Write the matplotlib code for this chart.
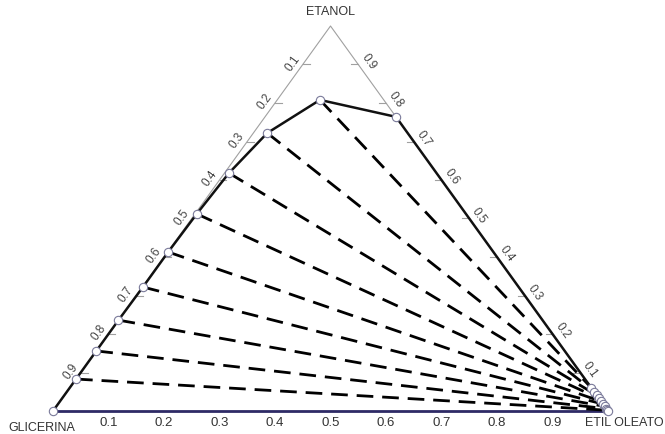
import numpy as np
import matplotlib
matplotlib.use("Agg")
import matplotlib.pyplot as plt

plt.rcParams["font.family"] = ["Liberation Sans", "DejaVu Sans"]

# fase rica em glicerina (ramo esquerdo), fracoes de etanol e etil oleato
fase_glic_etanol = [0.000, 0.083, 0.156, 0.236, 0.322, 0.413, 0.512, 0.618, 0.722, 0.808]
fase_glic_oleato = [0.000, 0.000, 0.000, 0.000, 0.001, 0.001, 0.003, 0.008, 0.025, 0.077]

# fase rica em etil oleato (ramo direito)
fase_ole_etanol = [0.000, 0.002, 0.006, 0.012, 0.018, 0.025, 0.033, 0.041, 0.050, 0.060, 0.764]
fase_ole_oleato = [1.000, 0.998, 0.994, 0.988, 0.982, 0.975, 0.967, 0.959, 0.950, 0.940, 0.236]

# linhas de amarracao: indice no ramo esquerdo -> indice no ramo direito
amarracao = [(1, 1), (2, 2), (3, 3), (4, 4), (5, 5), (6, 6), (7, 7), (8, 8), (9, 9)]

ticks = [0.1, 0.2, 0.3, 0.4, 0.5, 0.6, 0.7, 0.8, 0.9]
vertices = ["GLICERINA", "ETANOL", "ETIL OLEATO"]


def tern(etanol, oleato):
    etanol = np.asarray(etanol, dtype=float)
    oleato = np.asarray(oleato, dtype=float)
    return oleato + etanol / 2.0, etanol


fig = plt.figure(figsize=(6.65, 4.34), dpi=100)
ax = fig.add_axes([0, 0, 1, 1])
ax.set_xlim(-53 / 555, 612 / 555)
ax.set_ylim(-23 / 385, 411 / 385)
ax.axis("off")

# triangulo
ax.plot([0, 0.5, 1], [0, 1, 0], color="#a0a0a0", lw=0.8, zorder=1)
ax.plot([0, 1], [0, 0], color="#2e2a66", lw=2.0, zorder=2)

# marcas e rotulos
tk = 7 / 555
for t in ticks:
    # lado esquerdo: fracao de glicerina
    x, y = tern(1 - t, 0)
    ax.plot([x, x + tk], [y, y], color="#a0a0a0", lw=0.8, zorder=1)
    ax.text(x - 10 / 555, y + 1 / 385, f"{t:.1f}", rotation=54, ha="center", va="center",
            fontsize=8.5, color="#444444")
    # lado direito: fracao de etanol
    x, y = tern(t, 1 - t)
    ax.plot([x, x - tk], [y, y], color="#a0a0a0", lw=0.8, zorder=1)
    ax.text(x + 10 / 555, y + 3 / 385, f"{t:.1f}", rotation=-54, ha="center", va="center",
            fontsize=8.5, color="#444444")
    # base: fracao de etil oleato
    x, y = tern(0, t)
    ax.text(x, y - 12 / 385, f"{t:.1f}", ha="center", va="center", fontsize=9.5, color="#333333")

ax.text(0.5, 1 + 14 / 385, vertices[1], ha="center", va="center", fontsize=9, color="#333333")
ax.text(-11 / 555, -17 / 385, vertices[0], ha="center", va="center", fontsize=9, color="#333333")
ax.text(571 / 555, -12 / 385, vertices[2], ha="center", va="center", fontsize=9, color="#333333")

# linhas de amarracao
for i, j in amarracao:
    xa, ya = tern(fase_glic_etanol[i], fase_glic_oleato[i])
    xb, yb = tern(fase_ole_etanol[j], fase_ole_oleato[j])
    ax.plot([xa, xb], [ya, yb], color="black", lw=2.0, dashes=(6, 3.2), zorder=3)

# curva binodal
bx1, by1 = tern(fase_glic_etanol, fase_glic_oleato)
bx2, by2 = tern(fase_ole_etanol[::-1], fase_ole_oleato[::-1])
ax.plot(np.concatenate([bx1, bx2]), np.concatenate([by1, by2]), color="#111111", lw=1.8, zorder=4)

ax.plot(bx1, by1, "o", ms=6, mfc="white", mec="#7a7a9a", mew=0.8, zorder=5)
ax.plot(bx2, by2, "o", ms=6, mfc="white", mec="#7a7a9a", mew=0.8, zorder=5)

fig.savefig("out.png", dpi=100)
